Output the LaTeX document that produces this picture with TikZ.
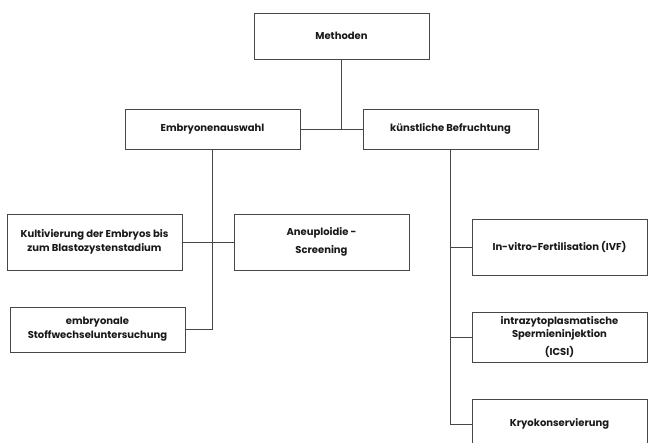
\documentclass[tikz,border=0pt]{standalone}
\usepackage{fontspec}
\setmainfont{Poppins}
\begin{document}
\begin{tikzpicture}[x=1pt,y=-1pt,
  box/.style={draw=black!72, line width=0.9pt, fill=white, minimum width=175pt, inner sep=0pt,
    align=center, font=\fontsize{10}{13.7}\selectfont\bfseries, text=black!90},
  conn/.style={draw=black!72, line width=0.9pt}]
\useasboundingbox (0,0) rectangle (648,443);
\node[box, minimum height=46pt] (meth) at (341.5,36) {Methoden};
\node[box, minimum height=40pt] (emb) at (212.5,129) {Embryonenauswahl};
\node[box, minimum height=40pt] (kb) at (450.5,129) {künstliche Befruchtung};
\node[box, minimum height=56pt] (kult) at (94.5,242) {Kultivierung der Embryos bis\\zum Blastozystenstadium};
\node[box, minimum height=56pt] (aneu) at (321.5,242) {Aneuploidie -\\[5pt]Screening};
\node[box, minimum height=45pt] (embr) at (97.5,329.5) {embryonale\\Stoffwechseluntersuchung};
\node[box, minimum height=56pt] (ivf) at (559.5,247) {In-vitro-Fertilisation (IVF)};
\node[box, minimum height=50pt] (icsi) at (559.5,337) {intrazytoplasmatische\\Spermieninjektion\\[4pt](ICSI)};
\node[box, minimum height=50pt] (kryo) at (559.5,424) {Kryokonservierung};
\draw[conn] (emb.east) -- (kb.west);
\draw[conn] (meth.south) -- (meth.south |- emb.east);
\draw[conn] (kult.east) -- (aneu.west);
\draw[conn] (emb.south) |- (embr.east);
\draw[conn] (kb.south) |- (kryo.west);
\draw[conn] (kb.south |- ivf.west) -- (ivf.west);
\draw[conn] (kb.south |- icsi.west) -- (icsi.west);
\end{tikzpicture}
\end{document}
